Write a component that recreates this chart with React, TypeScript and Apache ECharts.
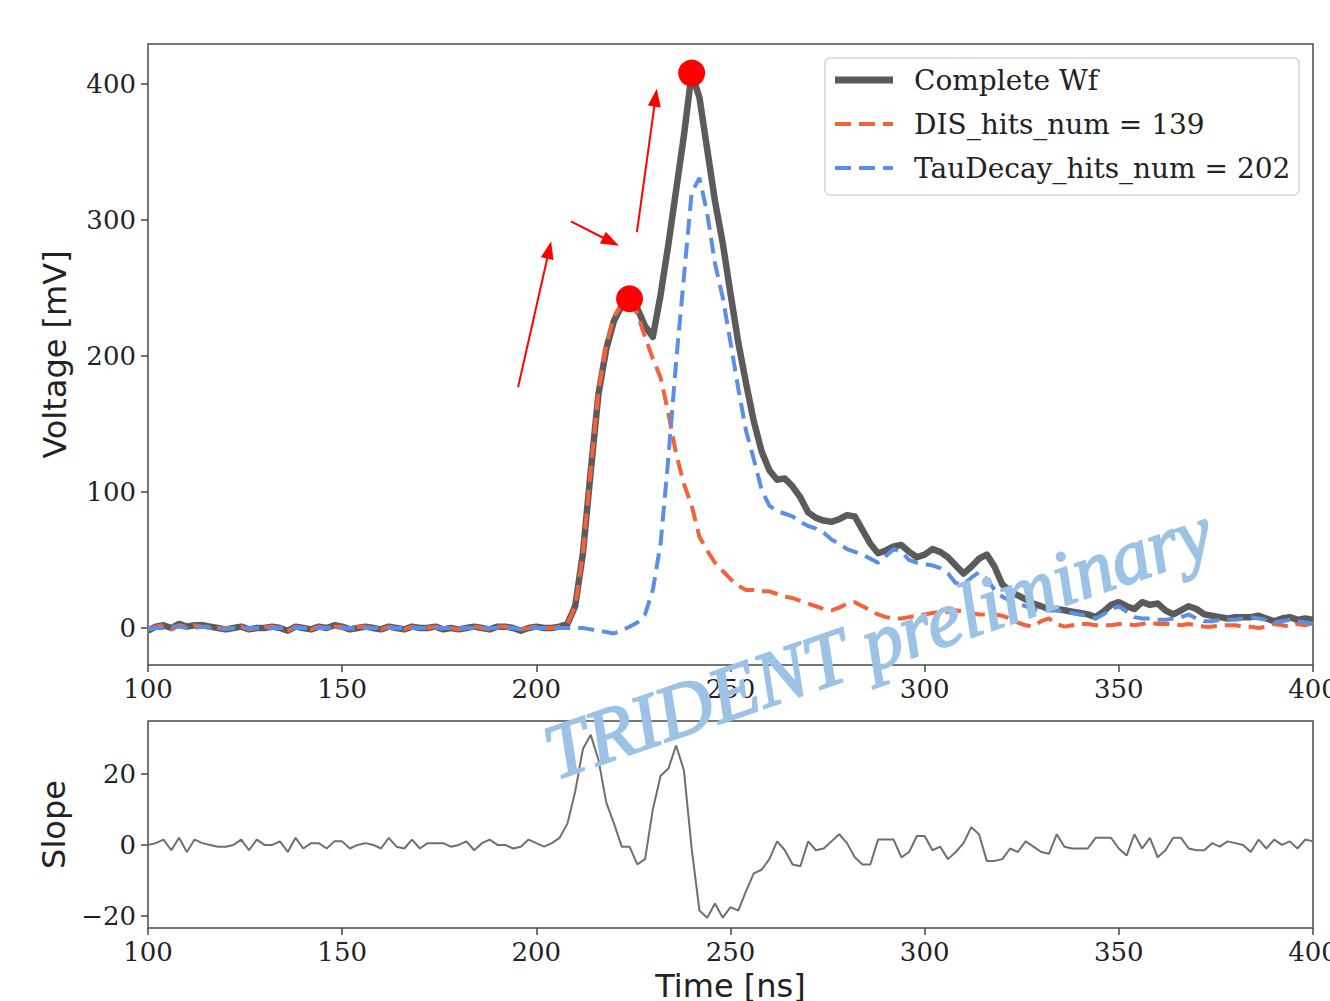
import React, { useEffect, useRef } from "react";
import * as echarts from "echarts";

// Sample times [ns]
const time = [
  100, 102, 104, 106, 108, 110, 112, 114, 116, 118,
  120, 122, 124, 126, 128, 130, 132, 134, 136, 138,
  140, 142, 144, 146, 148, 150, 152, 154, 156, 158,
  160, 162, 164, 166, 168, 170, 172, 174, 176, 178,
  180, 182, 184, 186, 188, 190, 192, 194, 196, 198,
  200, 202, 204, 206, 208, 210, 212, 214, 216, 218,
  220, 222, 224, 226, 228, 230, 232, 234, 236, 238,
  240, 242, 244, 246, 248, 250, 252, 254, 256, 258,
  260, 262, 264, 266, 268, 270, 272, 274, 276, 278,
  280, 282, 284, 286, 288, 290, 292, 294, 296, 298,
  300, 302, 304, 306, 308, 310, 312, 314, 316, 318,
  320, 322, 324, 326, 328, 330, 332, 334, 336, 338,
  340, 342, 344, 346, 348, 350, 352, 354, 356, 358,
  360, 362, 364, 366, 368, 370, 372, 374, 376, 378,
  380, 382, 384, 386, 388, 390, 392, 394, 396, 398,
  400,
];

// Complete waveform [mV]
const completeWf = [
  -2, 1, 2, 0, 3, 1, 2, 2, 1, 0,
  -1, 0, 1, -1, 0, 0, 1, 0, -2, 1,
  0, -1, 1, 0, 2, 1, -1, 0, 1, 0,
  -1, 1, 0, -1, 1, 0, 0, 1, -1, 0,
  -1, 0, 1, 0, -1, 1, 1, 0, -2, 0,
  1, 0, 0, 1, 3, 16, 55, 115, 172, 205,
  226, 237, 242, 235, 222, 214, 245, 282, 322, 362,
  408, 390, 352, 314, 283, 246, 210, 180, 152, 130,
  116, 109, 110, 104, 96, 85, 81, 79, 78, 80,
  83, 82, 72, 62, 55, 57, 60, 61, 56, 52,
  54, 58, 56, 52, 46, 40, 45, 51, 54, 45,
  32, 27, 24, 21, 18, 16, 14, 14, 13, 12,
  11, 10, 8, 12, 17, 19, 16, 14, 19, 17,
  18, 13, 10, 13, 16, 14, 10, 9, 8, 7,
  8, 8, 8, 9, 7, 5, 7, 8, 6, 7,
  6,
];

// DIS component [mV]
const disWf = [
  -1, 1, 2, -1, 2, 1, 2, 1, 1, 0,
  0, 0, 1, -1, 0, 1, 1, 0, -2, 1,
  0, -1, 1, 0, 1, 1, -1, 1, 1, 0,
  -1, 1, 0, -1, 1, 0, 0, 1, -1, 0,
  -1, 0, 1, 0, -1, 1, 1, 0, -1, 0,
  1, 0, 0, 1, 3, 16, 55, 116, 174, 208,
  229, 238, 242, 231, 214, 198, 184, 158, 128, 106,
  90, 67, 57, 48, 42, 36, 31, 28, 28, 27,
  27, 25, 23, 22, 20, 18, 16, 14, 13, 15,
  18, 19, 16, 13, 10, 8, 7, 7, 8, 9,
  10, 11, 12, 12, 13, 12, 11, 10, 10, 10,
  9, 7, 4, 2, 1, 5, 7, 3, 1, 2,
  3, 3, 2, 2, 2, 3, 3, 2, 3, 4,
  3, 3, 3, 2, 3, 2, 1, 1, 2, 2,
  2, 1, 1, 0, 1, 3, 2, 1, 3, 2,
  4,
];

// TauDecay component [mV]
const tauWf = [
  -1, 0, 0, 1, 1, 0, 0, 1, 0, 0,
  -1, 0, 0, 0, 0, -1, 0, 0, 0, 0,
  0, 0, 0, 0, 1, 0, 0, -1, 0, 0,
  0, 0, 0, 0, 0, 0, 0, 0, 0, 0,
  0, 0, 0, 0, 0, 0, 0, 0, -1, 0,
  0, 0, 0, 0, 0, 0, 0, -1, -2, -3,
  -4, -2, 1, 4, 10, 28, 62, 125, 196, 258,
  320, 331, 305, 268, 243, 210, 176, 145, 124, 102,
  90, 86, 84, 82, 78, 75, 73, 70, 65, 62,
  58, 56, 54, 51, 48, 53, 58, 56, 50, 48,
  47, 46, 44, 40, 33, 32, 37, 41, 36, 28,
  23, 20, 18, 16, 14, 13, 13, 13, 12, 11,
  10, 9, 7, 10, 14, 16, 12, 8, 7, 7,
  6, 6, 7, 8, 10, 7, 5, 5, 6, 6,
  6, 7, 8, 7, 6, 4, 5, 6, 5, 4,
  3,
];

// Slope of complete waveform
const slope = [
  0, 0.5, 1.5, -1.5, 2, -2, 1.5, 0.5, 0, -0.5,
  -0.5, 0, 1.5, -1.5, 1.5, 0, 0, 1, -2, 2,
  -1, 0.5, 0.5, -1, 1, 1, -1, 0, 0.5, 0,
  -1, 2, -0.5, -1, 1.5, -1, 0.5, 0.5, 0.5, -0.5,
  0, 1, -1.5, 0.5, 1.5, 0, 0, -1, -0.5, 1.5,
  0.5, -0.5, 0.5, 2, 6, 15, 27, 31, 24, 12,
  6, -0.5, -0.5, -5.5, -4, 10, 19.5, 21.5, 28, 21,
  -1, -18.5, -20.5, -16.5, -20.5, -17.5, -18.5, -13, -8, -7,
  -4, 1, -1.5, -5.5, -6, 1, -1.5, -1, 1, 3,
  0.5, -3.5, -5.5, -5.5, 1.5, 1.5, 1.5, -3.5, -2, 2.5,
  2.5, -1.5, -0.5, -4, -2, 0.5, 5, 3, -4.5, -4.5,
  -4, -1, -2, 1, -0.5, -2, -2.5, 3, -0.5, -1,
  -1, -1, 2, 2, 2, -1, -3, 3, -1, 2,
  -3.5, -1.5, 2, 2, -1, -1.5, -1.5, 0.5, -0.5, 1,
  0.5, 0, -2, 1.5, -1, 1.5, 0, 1, -1, 1.5,
  1,
];

// Peak markers
const peakTimes = [224, 240];
const peakValues = [242, 408];

// Annotation arrows: [tStart, vStart] -> [tEnd, vEnd]
const arrowStarts = [
  [195.3, 177],
  [208.9, 299],
  [225.9, 291],
];
const arrowEnds = [
  [203.3, 278],
  [219.2, 284],
  [230.7, 390],
];

const voltageTicks = [0, 100, 200, 300, 400];
const slopeTicks = [-20, 0, 20];
const legendLabels = ["Complete Wf", "DIS_hits_num = 139", "TauDecay_hits_num = 202"];

const COL_C = "#5b5b5b";
const COL_D = "#f4623a";
const COL_T = "#5b8ee8";
const SERIF = "DejaVu Serif";
const SANS = "DejaVu Sans";
const DASH = [16, 8];

export default function App() {
  const ref = useRef<HTMLDivElement>(null);

  useEffect(() => {
    if (!ref.current) return;
    const chart = echarts.init(ref.current, undefined, { renderer: "svg" });

    const tickStyle = { show: true, inside: false, length: 7, lineStyle: { color: "#444", width: 1.5 } };
    const labelStyle = { fontFamily: SERIF, fontSize: 26, color: "#222" };
    const minus = (v: number) => (v < 0 ? "\u2212" + Math.abs(v) : String(v));
    const hiddenLine = { show: false, onZero: false };

    const option: any = {
      animation: false,
      backgroundColor: "#ffffff",
      grid: [
        { left: 148, top: 44, width: 1165, height: 621, show: true, borderColor: "#4a4a4a", borderWidth: 1.5, backgroundColor: "#fff", containLabel: false, outerBoundsMode: "none" },
        { left: 148, top: 721, width: 1165, height: 207, show: true, borderColor: "#4a4a4a", borderWidth: 1.5, backgroundColor: "#fff", containLabel: false, outerBoundsMode: "none" },
      ],
      xAxis: [
        {
          gridIndex: 0, type: "value", min: 100, max: 400, interval: 50,
          axisLine: hiddenLine, axisTick: tickStyle, splitLine: { show: false },
          axisLabel: { ...labelStyle, margin: 11 },
        },
        {
          gridIndex: 1, type: "value", min: 100, max: 400, interval: 50,
          axisLine: hiddenLine, axisTick: tickStyle, splitLine: { show: false },
          axisLabel: { ...labelStyle, margin: 11 },
          name: "Time [ns]", nameLocation: "middle", nameGap: 42,
          nameTextStyle: { fontFamily: SANS, fontSize: 32, color: "#222" },
        },
      ],
      yAxis: [
        {
          gridIndex: 0, type: "value", min: -27.2, max: 429.4,
          axisLine: hiddenLine, splitLine: { show: false },
          axisTick: { ...tickStyle, customValues: voltageTicks },
          axisLabel: { ...labelStyle, margin: 12, customValues: voltageTicks, formatter: minus },
          name: "Voltage [mV]", nameLocation: "middle", nameGap: 77,
          nameTextStyle: { fontFamily: SANS, fontSize: 32, color: "#222" },
        },
        {
          gridIndex: 1, type: "value", min: -23.4, max: 34.9,
          axisLine: hiddenLine, splitLine: { show: false },
          axisTick: { ...tickStyle, customValues: slopeTicks },
          axisLabel: { ...labelStyle, margin: 12, customValues: slopeTicks, formatter: minus },
          name: "Slope", nameLocation: "middle", nameGap: 77,
          nameTextStyle: { fontFamily: SANS, fontSize: 32, color: "#222" },
        },
      ],
      series: [
        {
          name: legendLabels[0], type: "line", xAxisIndex: 0, yAxisIndex: 0,
          data: time.map((t, i) => [t, completeWf[i]]),
          showSymbol: false, symbol: "none", z: 2,
          lineStyle: { color: COL_C, width: 6.5, join: "round" },
        },
        {
          name: legendLabels[1], type: "line", xAxisIndex: 0, yAxisIndex: 0,
          data: time.map((t, i) => [t, disWf[i]]),
          showSymbol: false, symbol: "none", z: 3,
          lineStyle: { color: COL_D, width: 4, type: DASH },
        },
        {
          name: legendLabels[2], type: "line", xAxisIndex: 0, yAxisIndex: 0,
          data: time.map((t, i) => [t, tauWf[i]]),
          showSymbol: false, symbol: "none", z: 3,
          lineStyle: { color: COL_T, width: 4, type: DASH },
        },
        {
          type: "scatter", xAxisIndex: 0, yAxisIndex: 0, z: 5,
          data: peakTimes.map((t, i) => [t, peakValues[i]]),
          symbol: "circle", symbolSize: 27,
          itemStyle: { color: "#ff0000", opacity: 1 },
          markLine: {
            silent: true, animation: false,
            symbol: ["none", "triangle"], symbolSize: [13, 18],
            lineStyle: { color: "#ff0000", width: 2, type: "solid", opacity: 1 },
            label: { show: false },
            data: arrowStarts.map((s, i) => [
              { coord: s, itemStyle: { color: "#ff0000" } },
              { coord: arrowEnds[i], itemStyle: { color: "#ff0000" } },
            ]),
          },
        },
        {
          type: "line", xAxisIndex: 1, yAxisIndex: 1,
          data: time.map((t, i) => [t, slope[i]]),
          showSymbol: false, symbol: "none",
          lineStyle: { color: "#6f6f6f", width: 2 },
        },
      ],
      graphic: [
        {
          type: "group", z: 50,
          children: [
            {
              type: "rect", shape: { x: 825, y: 58, width: 474, height: 137, r: 5 },
              style: { fill: "rgba(255,255,255,0.85)", stroke: "#d4d4d4", lineWidth: 1.5 },
            },
            { type: "line", shape: { x1: 835, y1: 80, x2: 893, y2: 80 }, style: { stroke: COL_C, lineWidth: 7 } },
            { type: "line", shape: { x1: 835, y1: 124, x2: 893, y2: 124 }, style: { stroke: COL_D, lineWidth: 4, lineDash: DASH } },
            { type: "line", shape: { x1: 835, y1: 168, x2: 893, y2: 168 }, style: { stroke: COL_T, lineWidth: 4, lineDash: DASH } },
            ...legendLabels.map((lab, i) => ({
              type: "text", x: 914, y: 80 + i * 44,
              style: { text: lab, fontFamily: SERIF, fontSize: 28, fill: "#222", align: "left", verticalAlign: "middle" },
            })),
          ],
        },
        {
          type: "text", z: 100, x: 878, y: 642, rotation: 0.33,
          style: {
            text: "TRIDENT preliminary", fontFamily: "Liberation Serif", fontStyle: "italic",
            fontSize: 78, fill: "#9cc2e5", stroke: "#9cc2e5", lineWidth: 2,
            align: "center", verticalAlign: "middle",
          },
        },
      ],
    };

    chart.setOption(option);
    return () => chart.dispose();
  }, []);

  return (
    <div
      ref={ref}
      style={{ position: "absolute", left: 0, top: 0, width: 1330, height: 1001, background: "#fff" }}
    />
  );
}
